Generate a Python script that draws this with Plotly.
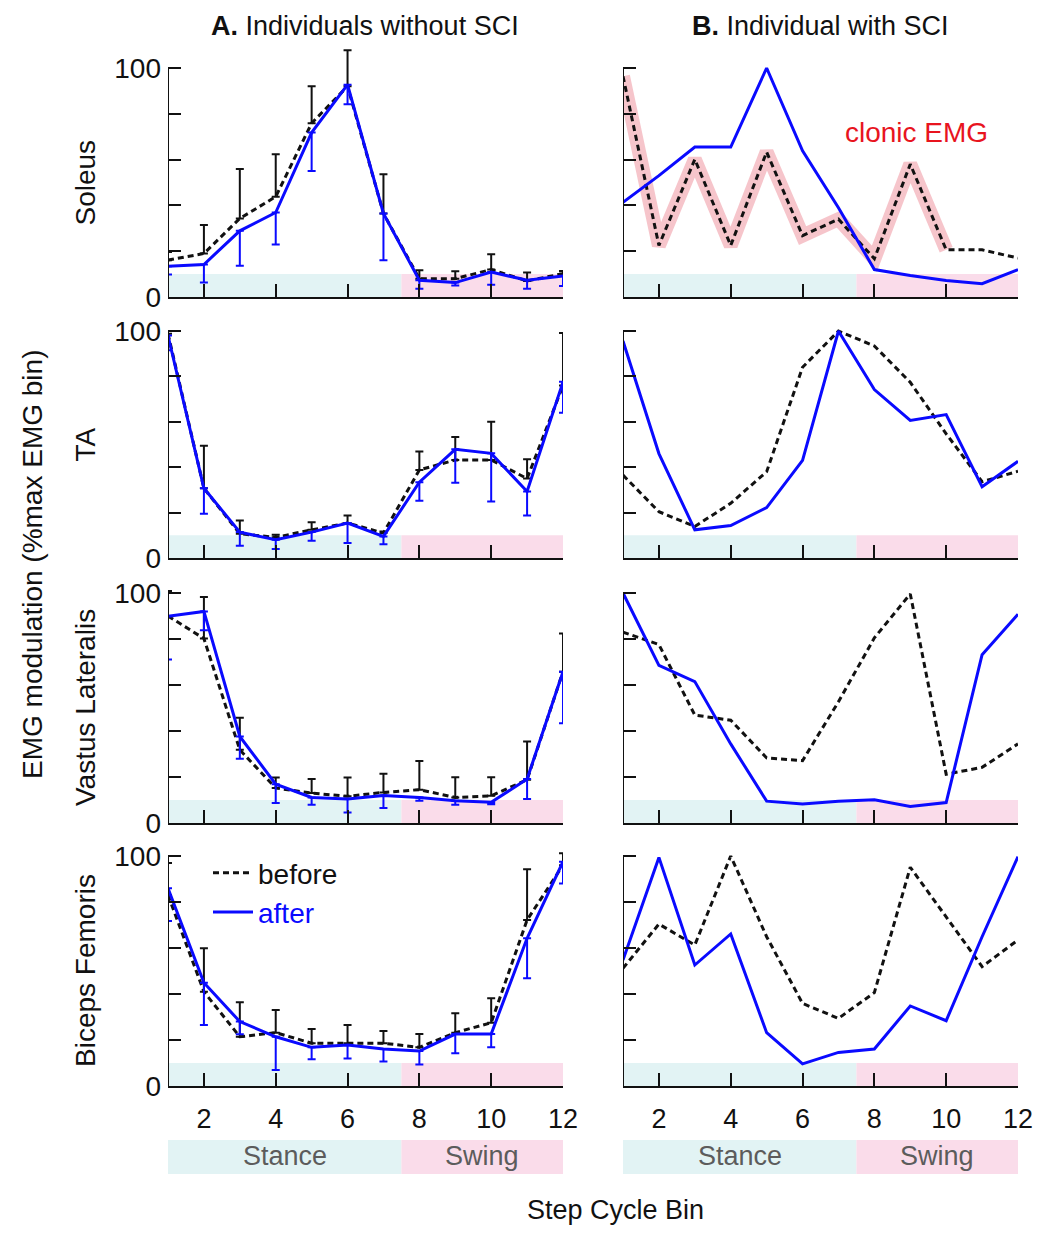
import plotly.graph_objects as go

PAGE_W, PAGE_H = 1044, 1235
OFF = 8  # default page body margin
W, H = PAGE_W - 2 * OFF, PAGE_H - 2 * OFF
bins = list(range(1, 13))

# ---------------- data (% of max EMG bin) ----------------
# A. Individuals without SCI (group means, black = before, blue = after), error = SD shown one-sided
sol_a_before = [16.1, 19.0, 34.3, 43.8, 75.9, 92.0, 36.5, 8.0, 8.0, 12.0, 7.0, 10.2]
sol_a_before_err = [3.6, 12.4, 21.6, 18.5, 16.1, 15.7, 17.1, 3.7, 3.2, 6.7, 3.7, 1.2]
sol_a_after = [13.4, 14.2, 28.9, 36.9, 71.8, 92.7, 36.5, 7.3, 6.3, 10.9, 7.3, 9.2]
sol_a_after_err = [3.6, 7.9, 15.3, 14.0, 16.8, 8.5, 20.5, 3.7, 1.3, 5.5, 3.7, 4.4]

ta_a_before = [98.8, 30.7, 10.7, 9.1, 12.4, 15.4, 11.0, 38.8, 43.2, 43.2, 35.0, 76.0]
ta_a_before_err = [1.2, 18.8, 5.8, 1.1, 3.4, 3.3, 0.7, 8.1, 10.1, 16.8, 8.5, 23.1]
ta_a_after = [98.0, 30.7, 11.4, 8.0, 11.4, 15.4, 9.5, 33.4, 47.9, 46.1, 29.3, 77.6]
ta_a_after_err = [6.5, 11.2, 6.0, 4.0, 3.8, 8.8, 3.4, 8.2, 14.7, 21.2, 10.6, 13.6]

vl_a_before = [90.0, 80.2, 31.8, 15.2, 13.0, 11.6, 13.3, 14.5, 11.1, 11.8, 18.8, 65.8]
vl_a_before_err = [10.9, 18.1, 14.0, 4.6, 6.1, 8.2, 8.1, 12.5, 8.8, 8.1, 16.6, 16.6]
vl_a_after = [89.9, 92.0, 37.6, 16.9, 11.1, 10.4, 12.0, 11.1, 9.7, 9.0, 19.1, 65.8]
vl_a_after_err = [18.8, 8.2, 9.7, 8.2, 3.2, 5.8, 5.5, 1.4, 1.8, 0.8, 8.7, 22.4]

bf_a_before = [83.0, 41.0, 21.4, 23.2, 18.6, 18.6, 18.6, 16.8, 23.2, 27.5, 72.2, 96.0]
bf_a_before_err = [14.0, 18.9, 15.0, 9.8, 6.2, 7.9, 5.3, 5.8, 8.4, 10.6, 22.0, 5.2]
bf_a_after = [86.0, 44.9, 28.0, 21.4, 16.8, 17.8, 16.1, 15.2, 22.6, 22.6, 64.2, 97.5]
bf_a_after_err = [14.3, 18.4, 5.5, 14.4, 5.2, 5.8, 5.5, 5.8, 8.4, 5.8, 17.4, 9.5]

# B. Individual with SCI
sol_b_before = [96.4, 22.5, 60.1, 22.5, 63.3, 26.8, 34.0, 16.7, 58.0, 20.6, 20.6, 17.0]
sol_b_after = [41.3, 53.0, 65.5, 65.5, 100.0, 63.8, 39.0, 12.0, 9.4, 7.2, 5.8, 12.0]
clonic_bins = [1, 2, 3, 4, 5, 6, 7, 8, 9, 10]

ta_b_before = [36.5, 20.4, 13.9, 24.1, 38.0, 84.0, 100.0, 93.4, 77.4, 54.7, 33.6, 38.2]
ta_b_after = [95.6, 46.0, 12.4, 14.3, 22.2, 43.0, 100.0, 74.2, 60.6, 63.2, 31.4, 42.6]

vl_b_before = [83.0, 77.6, 46.9, 44.7, 28.3, 27.1, 52.7, 80.5, 99.6, 21.2, 24.2, 34.4]
vl_b_after = [100.0, 68.5, 61.5, 34.4, 9.5, 8.3, 9.5, 10.1, 7.2, 8.9, 73.2, 90.8]

bf_b_before = [51.2, 70.4, 61.3, 100.0, 64.9, 35.9, 29.4, 40.6, 95.1, 73.6, 51.9, 63.5]
bf_b_after = [54.8, 99.4, 52.6, 66.1, 23.2, 9.6, 14.6, 16.1, 34.8, 28.4, 64.9, 99.7]

muscles = ["Soleus", "TA", "Vastus Lateralis", "Biceps Femoris"]
yticks = [0, 20, 40, 60, 80, 100]
xticks = [2, 4, 6, 8, 10, 12]
phase_names = ["Stance", "Swing"]
phase_edges = [1, 7.5, 12]

# ---------------- styling ----------------
FONT = "Liberation Sans, Arial, sans-serif"
BLUE = "#0a0aff"
BLACK = "#111111"
STANCE_C = "#e2f3f4"
SWING_C = "#fadcea"


def px(x):  # page pixel -> paper x
    return (x - OFF) / W


def py(y):  # page pixel -> paper y
    return 1 - (y - OFF) / H


# page-pixel geometry of the panels
x_px = [(168, 563), (623, 1018)]
y_px = [(297, 68), (558, 331), (823, 593), (1086, 856)]  # (value 0, value 100)
YMAX = 110

fig = go.Figure()

data_a = [(sol_a_before, sol_a_before_err, sol_a_after, sol_a_after_err),
          (ta_a_before, ta_a_before_err, ta_a_after, ta_a_after_err),
          (vl_a_before, vl_a_before_err, vl_a_after, vl_a_after_err),
          (bf_a_before, bf_a_before_err, bf_a_after, bf_a_after_err)]
data_b = [(sol_b_before, sol_b_after), (ta_b_before, ta_b_after),
          (vl_b_before, vl_b_after), (bf_b_before, bf_b_after)]

dash = "6px,4px"
layout_axes = {}
shapes = []
annotations = []

for r in range(4):
    y0p, y100p = y_px[r]
    top = y0p - (y0p - y100p) * YMAX / 100
    ydom = [py(y0p), py(top)]
    for c in range(2):
        k = r * 2 + c + 1
        xa = "x" if k == 1 else f"x{k}"
        ya = "y" if k == 1 else f"y{k}"
        xname = "xaxis" if k == 1 else f"xaxis{k}"
        yname = "yaxis" if k == 1 else f"yaxis{k}"
        bottom = (r == 3)
        layout_axes[xname] = dict(
            domain=[px(x_px[c][0]), px(x_px[c][1])], range=[1, 12], anchor=ya,
            showline=True, linecolor=BLACK, linewidth=2, showgrid=False, zeroline=False,
            ticks="inside", ticklen=13, tickwidth=2, tickcolor=BLACK,
            tickvals=xticks, ticktext=[str(v) for v in xticks] if bottom else [""] * 6,
            tickfont=dict(family=FONT, size=27, color=BLACK), ticklabelstandoff=8,
            automargin=False,
        )
        layout_axes[yname] = dict(
            domain=ydom, range=[0, YMAX], anchor=xa,
            showline=False, showgrid=False, zeroline=False,
            ticks="inside", ticklen=13, tickwidth=2, tickcolor=BLACK,
            tickvals=yticks,
            ticktext=["0", "", "", "", "", "100"] if c == 0 else [""] * 6,
            tickfont=dict(family=FONT, size=28, color=BLACK), ticklabelstandoff=6,
            automargin=False,
        )
        # y axis line from 0 to 100
        shapes.append(dict(type="line", xref=xa, yref=ya, x0=1, x1=1, y0=0, y1=100,
                           line=dict(color=BLACK, width=2), layer="above"))
        # stance / swing bands
        for i, col in enumerate([STANCE_C, SWING_C]):
            shapes.append(dict(type="rect", xref=xa, yref=ya, x0=phase_edges[i], x1=phase_edges[i + 1],
                               y0=0, y1=10, fillcolor=col, line=dict(width=0), layer="below"))

        showleg = (r == 3 and c == 0)
        if c == 0:
            bef, bef_err, aft, aft_err = data_a[r]
            fig.add_trace(go.Scatter(
                x=bins, y=bef, mode="lines", xaxis=xa, yaxis=ya,
                line=dict(color=BLACK, width=3, dash=dash),
                error_y=dict(type="data", symmetric=False, array=bef_err, arrayminus=[0] * 12,
                             color=BLACK, thickness=2, width=4),
                name="before", showlegend=showleg, cliponaxis=False))
            fig.add_trace(go.Scatter(
                x=bins, y=aft, mode="lines", xaxis=xa, yaxis=ya,
                line=dict(color=BLUE, width=3),
                error_y=dict(type="data", symmetric=False, array=[0] * 12, arrayminus=aft_err,
                             color=BLUE, thickness=2, width=4),
                name=f'<span style="color:{BLUE}">after</span>', showlegend=showleg, cliponaxis=False))
        else:
            bef, aft = data_b[r]
            if r == 0:
                fig.add_trace(go.Scatter(
                    x=clonic_bins, y=bef[:len(clonic_bins)], mode="lines", xaxis=xa, yaxis=ya,
                    line=dict(color="rgba(238,150,160,0.55)", width=14),
                    showlegend=False, hoverinfo="skip"))
            fig.add_trace(go.Scatter(
                x=bins, y=bef, mode="lines", xaxis=xa, yaxis=ya,
                line=dict(color=BLACK, width=3, dash=dash), showlegend=False))
            fig.add_trace(go.Scatter(
                x=bins, y=aft, mode="lines", xaxis=xa, yaxis=ya,
                line=dict(color=BLUE, width=3), showlegend=False))

    # muscle label
    yc = (y0p + y100p) / 2
    annotations.append(dict(text=muscles[r], x=px(85), y=py(yc), xref="paper", yref="paper",
                            textangle=-90, showarrow=False, xanchor="center", yanchor="middle",
                            font=dict(family=FONT, size=28, color=BLACK)))

# bottom phase bars
for c in range(2):
    xa = "x7" if c == 0 else "x8"
    for i, col in enumerate([STANCE_C, SWING_C]):
        shapes.append(dict(type="rect", xref=xa, yref="paper", x0=phase_edges[i], x1=phase_edges[i + 1],
                           y0=py(1174), y1=py(1140), fillcolor=col, line=dict(width=0), layer="below"))
        annotations.append(dict(text=phase_names[i], x=(phase_edges[i] + phase_edges[i + 1]) / 2,
                                xref=xa, y=py(1156), yref="paper", showarrow=False,
                                xanchor="center", yanchor="middle",
                                font=dict(family=FONT, size=27, color="#5c5c5c")))

# titles and labels
annotations += [
    dict(text="<b>A.</b> Individuals without SCI", x=px(365), y=py(26), xref="paper", yref="paper",
         showarrow=False, xanchor="center", yanchor="middle", font=dict(family=FONT, size=27, color=BLACK)),
    dict(text="<b>B.</b> Individual with SCI", x=px(820), y=py(26), xref="paper", yref="paper",
         showarrow=False, xanchor="center", yanchor="middle", font=dict(family=FONT, size=27, color=BLACK)),
    dict(text="EMG modulation (%max EMG bin)", x=px(32), y=py(565), xref="paper", yref="paper",
         textangle=-90, showarrow=False, xanchor="center", yanchor="middle",
         font=dict(family=FONT, size=28, color=BLACK)),
    dict(text="Step Cycle Bin", x=px(615), y=py(1210), xref="paper", yref="paper",
         showarrow=False, xanchor="center", yanchor="middle", font=dict(family=FONT, size=27, color=BLACK)),
    dict(text="clonic EMG", x=px(916), y=py(132), xref="paper", yref="paper",
         showarrow=False, xanchor="center", yanchor="middle", font=dict(family=FONT, size=28, color="#e8141e")),
]

fig.update_layout(
    width=W, height=H, margin=dict(l=0, r=0, t=0, b=0, autoexpand=False),
    paper_bgcolor="white", plot_bgcolor="rgba(0,0,0,0)",
    shapes=shapes, annotations=annotations,
    legend=dict(x=px(208), y=py(848), xanchor="left", yanchor="top",
                bgcolor="rgba(0,0,0,0)", font=dict(family=FONT, size=28, color=BLACK),
                tracegroupgap=0, itemwidth=40),
    **layout_axes,
)

fig.write_html("out.html")
